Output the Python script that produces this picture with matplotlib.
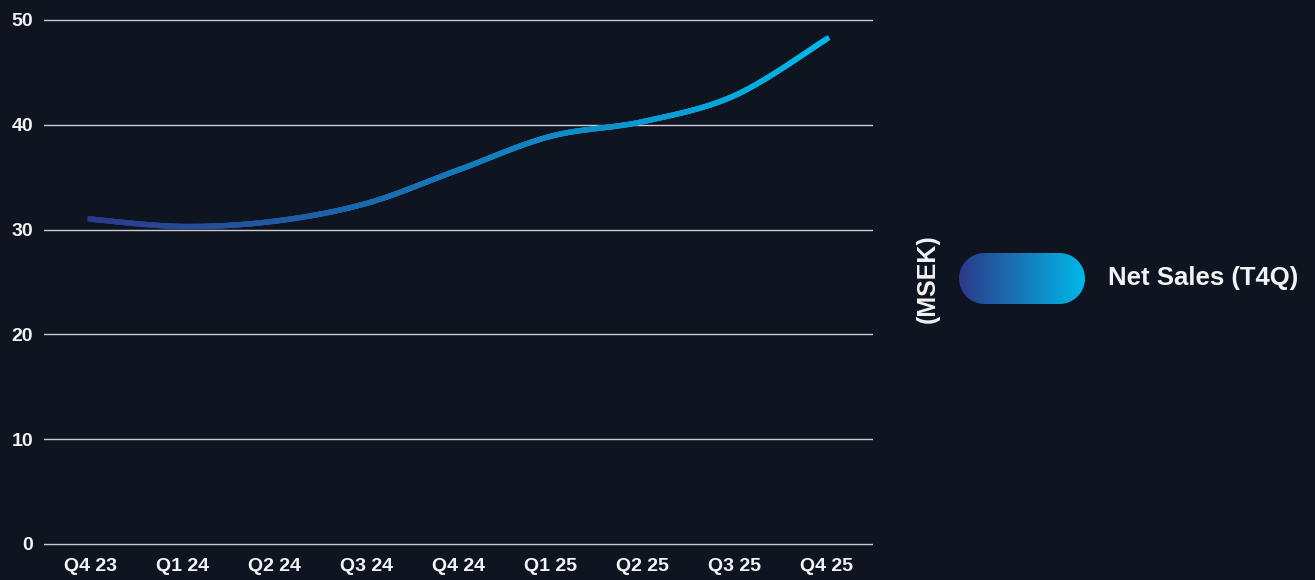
import numpy as np
import matplotlib
matplotlib.use("Agg")
import matplotlib.pyplot as plt
from matplotlib.path import Path
from matplotlib.collections import LineCollection
from matplotlib.colors import LinearSegmentedColormap
from matplotlib.patches import PathPatch

# data
quarters = ["Q4 23", "Q1 24", "Q2 24", "Q3 24", "Q4 24", "Q1 25", "Q2 25", "Q3 25", "Q4 25"]
net_sales = [31.0, 30.3, 30.8, 32.5, 35.7, 38.9, 40.3, 42.8, 48.2]
yticks = [0, 10, 20, 30, 40, 50]
legend_label = "Net Sales (T4Q)"
unit_label = "(MSEK)"

BG = "#0f1421"
GRID = "#c9cbd0"
TXT = "#f2f3f5"
cmap = LinearSegmentedColormap.from_list("ns", ["#2b3a8a", "#00b8e8"])

plt.rcParams["font.family"] = ["Liberation Sans", "DejaVu Sans"]

W, H = 1315, 580
fig = plt.figure(figsize=(W / 100, H / 100), dpi=100, facecolor=BG)

# axes box in pixels; y pad of 0.5 unit so edge gridlines are not clipped
px_unit = (544 - 20) / 50.0
pad = 0.5 * px_unit
ax = fig.add_axes([44 / W, (H - 544 - pad) / H, (873 - 44) / W, (524 + 2 * pad) / H])
ax.set_facecolor(BG)
ax.set_xlim(-0.5, len(quarters) - 0.5)
ax.set_ylim(-0.5, 50.5)
for s in ax.spines.values():
    s.set_visible(False)
ax.set_yticks(yticks)
ax.set_xticks(range(len(quarters)))
ax.set_xticklabels(quarters)
ax.tick_params(axis="both", length=0, colors=TXT, labelsize=14)
ax.tick_params(axis="y", pad=8)
ax.tick_params(axis="x", pad=6)
for lab in ax.get_xticklabels() + ax.get_yticklabels():
    lab.set_fontweight("bold")
ax.grid(axis="y", color=GRID, linewidth=1.0)
ax.grid(axis="x", visible=False)
ax.set_axisbelow(True)

# smooth curve through the points (catmull-rom -> cubic bezier)
pts = np.column_stack([np.arange(len(net_sales)), net_sales]).astype(float)
ext = np.vstack([pts[0], pts, pts[-1]])
verts = [pts[0]]
codes = [Path.MOVETO]
for i in range(len(pts) - 1):
    p0, p1, p2, p3 = ext[i], ext[i + 1], ext[i + 2], ext[i + 3]
    c1 = p1 + (p2 - p0) / 6.0
    c2 = p2 - (p3 - p1) / 6.0
    verts += [c1, c2, p2]
    codes += [Path.CURVE4] * 3
path = Path(verts, codes)

ts = np.linspace(0, 1, 40)
curve = []
for seg, code in path.iter_bezier():
    if code == Path.CURVE4:
        curve.append(seg(ts))
curve = np.vstack(curve)
segs = np.stack([curve[:-1], curve[1:]], axis=1)
lc = LineCollection(segs, cmap=cmap, linewidth=3.8, capstyle="projecting", joinstyle="round")
lc.set_array((curve[:-1, 0] + curve[1:, 0]) / 2)
lc.set_clim(0, len(quarters) - 1)
ax.add_collection(lc)

# legend pill with gradient
pw, ph = 126, 51
r = ph / 2
lax = fig.add_axes([959 / W, (H - 304) / H, pw / W, ph / H])
lax.set_axis_off()
lax.set_xlim(0, pw)
lax.set_ylim(0, ph)
grad = np.linspace(0, 1, 256).reshape(1, -1)
im = lax.imshow(grad, cmap=cmap, extent=[0, pw, 0, ph], aspect="auto")
left = Path.arc(90, 270)
right = Path.arc(-90, 90)
pv = np.vstack([left.vertices * r + [r, r], right.vertices * r + [pw - r, r], [[r, ph]]])
pc = np.concatenate([left.codes, right.codes, [Path.CLOSEPOLY]])
pc[len(left.codes)] = Path.LINETO
pill = PathPatch(Path(pv, pc), transform=lax.transData, facecolor="none", edgecolor="none")
lax.add_patch(pill)
im.set_clip_path(pill)

fig.text(1108 / W, 1 - 278 / H, legend_label, color=TXT, fontsize=18.5, fontweight="bold",
         ha="left", va="center")
fig.text(928 / W, 1 - 279 / H, unit_label, color=TXT, fontsize=18, fontweight="bold",
         rotation=90, ha="center", va="center")

fig.savefig("out.png", dpi=100, facecolor=BG)
